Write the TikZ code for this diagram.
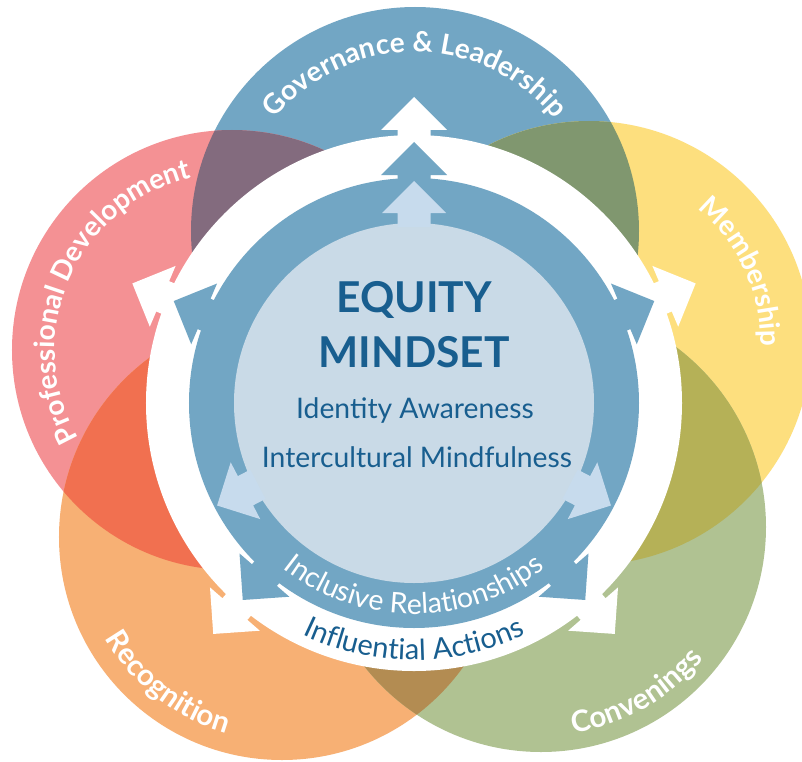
\documentclass[tikz,border=0pt]{standalone}
\usepackage{fontspec}
\setmainfont{Lato}
\usetikzlibrary{decorations.text}
\definecolor{govblue}{HTML}{72A6C4}
\definecolor{ringblue}{HTML}{72A6C4}
\definecolor{lightc}{HTML}{C9DAE7}
\definecolor{lightarr}{HTML}{C7DBED}
\definecolor{pinkc}{HTML}{F49194}
\definecolor{yelc}{HTML}{FDDF7E}
\definecolor{orc}{HTML}{F7B074}
\definecolor{grc}{HTML}{B0C292}
\definecolor{pinkgov}{HTML}{836B7E}
\definecolor{govyel}{HTML}{80976F}
\definecolor{pinkor}{HTML}{F17050}
\definecolor{yelgr}{HTML}{B5B157}
\definecolor{orgr}{HTML}{B38C52}
\definecolor{darkblue}{HTML}{185E8F}
\newcommand\outerfont{\fontsize{28}{28}\selectfont\bfseries\color{white}}
\newcommand\lowerfont{\fontsize{29.5}{28}\selectfont\bfseries\color{white}}
\newcommand\ringfontw{\fontsize{28.5}{28}\selectfont\color{white}}
\newcommand\ringfontb{\fontsize{29}{28}\selectfont\color{darkblue}}
% radial arrow: #1 inner radius of stem, #2 base radius, #3 tip radius, #4 half width
\newcommand\radialarrow[4]{(#1,-16.5) -- (#2,-16.5) -- (#2,-#4) -- (#3,0) -- (#2,#4) -- (#2,16.5) -- (#1,16.5) -- cycle}
\tikzset{
  curvedlabel/.style={decorate,decoration={text along path,text align=center,text={#1}}},
  centertext/.style={anchor=base,text=darkblue,inner sep=0pt},
}
\begin{document}
\begin{tikzpicture}[x=1pt,y=1pt]
\useasboundingbox (-414,-358) rectangle (388,403);
\clip (-414,-358) rectangle (388,403);
\fill[white] (-414,-358) rectangle (388,403);
% outer circles
\fill[govblue] (1,172) circle[radius=224pt];
\fill[pinkc] (-182,53) circle[radius=220pt];
\fill[yelc] (175,60) circle[radius=222pt];
\fill[orc] (-132,-134) circle[radius=223pt];
\fill[grc] (127,-124) circle[radius=225pt];
% overlaps
\begin{scope}\clip (1,172) circle[radius=224pt]; \fill[pinkgov] (-182,53) circle[radius=220pt];\end{scope}
\begin{scope}\clip (1,172) circle[radius=224pt]; \fill[govyel] (175,60) circle[radius=222pt];\end{scope}
\begin{scope}\clip (-182,53) circle[radius=220pt]; \fill[pinkor] (-132,-134) circle[radius=223pt];\end{scope}
\begin{scope}\clip (175,60) circle[radius=222pt]; \fill[yelgr] (127,-124) circle[radius=225pt];\end{scope}
\begin{scope}\clip (-132,-134) circle[radius=223pt]; \fill[orgr] (127,-124) circle[radius=225pt];\end{scope}
% white ring with arrows
\fill[white] (0,0) circle[radius=268pt];
\foreach \a in {90,157,23,229,311}{
  \fill[white,rotate=\a] \radialarrow{255}{273}{306}{33};
}
% blue ring with arrows
\fill[ringblue] (0,0) circle[radius=225pt];
\foreach \a in {90,157,23,229,311}{
  \fill[ringblue,rotate=\a] \radialarrow{215}{228}{261}{33};
}
% light centre with arrows
\fill[lightc] (0,0) circle[radius=180pt];
\foreach \a in {90,207.5,332.5}{
  \fill[lightarr,rotate=\a] \radialarrow{176}{190}{222}{32};
}
% centre texts
\node[centertext,font=\fontsize{42.5}{42}\selectfont\bfseries] (eq) at (0,91) {EQUITY};
\node[centertext,font=\fontsize{42.5}{42}\selectfont\bfseries] (ms) at (0,36) {MINDSET};
\node[centertext,font=\fontsize{28.3}{28}\selectfont] (ia) at (1,-15) {Identity Awareness};
\node[centertext,font=\fontsize{28.3}{28}\selectfont] (im) at (3,-64) {Intercultural Mindfulness};
% curved labels
\path[curvedlabel={|\outerfont|Governance {\&} Leadership}] ([shift={(1,172)}]150:179pt) arc[start angle=150,end angle=30,radius=179pt];
\path[curvedlabel={|\outerfont|Professional Development}] ([shift={(-182,53)}]216:177pt) arc[start angle=216,end angle=97,radius=177pt];
\path[curvedlabel={|\outerfont|Membership}] ([shift={(175,60)}]70:172pt) arc[start angle=70,end angle=-20,radius=172pt];
\path[curvedlabel={|\lowerfont|Recognition}] ([shift={(-132,-134)}]194:204pt) arc[start angle=194,end angle=270,radius=204pt];
\path[curvedlabel={|\lowerfont|Convenings}] ([shift={(127,-124)}]262:209pt) arc[start angle=262,end angle=338,radius=209pt];
\path[curvedlabel={|\ringfontw|Inclusive Relationships}] (200:211pt) arc[start angle=200,end angle=340,radius=211pt];
\path[curvedlabel={|\ringfontb|Influential Actions}] (210:257pt) arc[start angle=210,end angle=330,radius=257pt];
\end{tikzpicture}
\end{document}
